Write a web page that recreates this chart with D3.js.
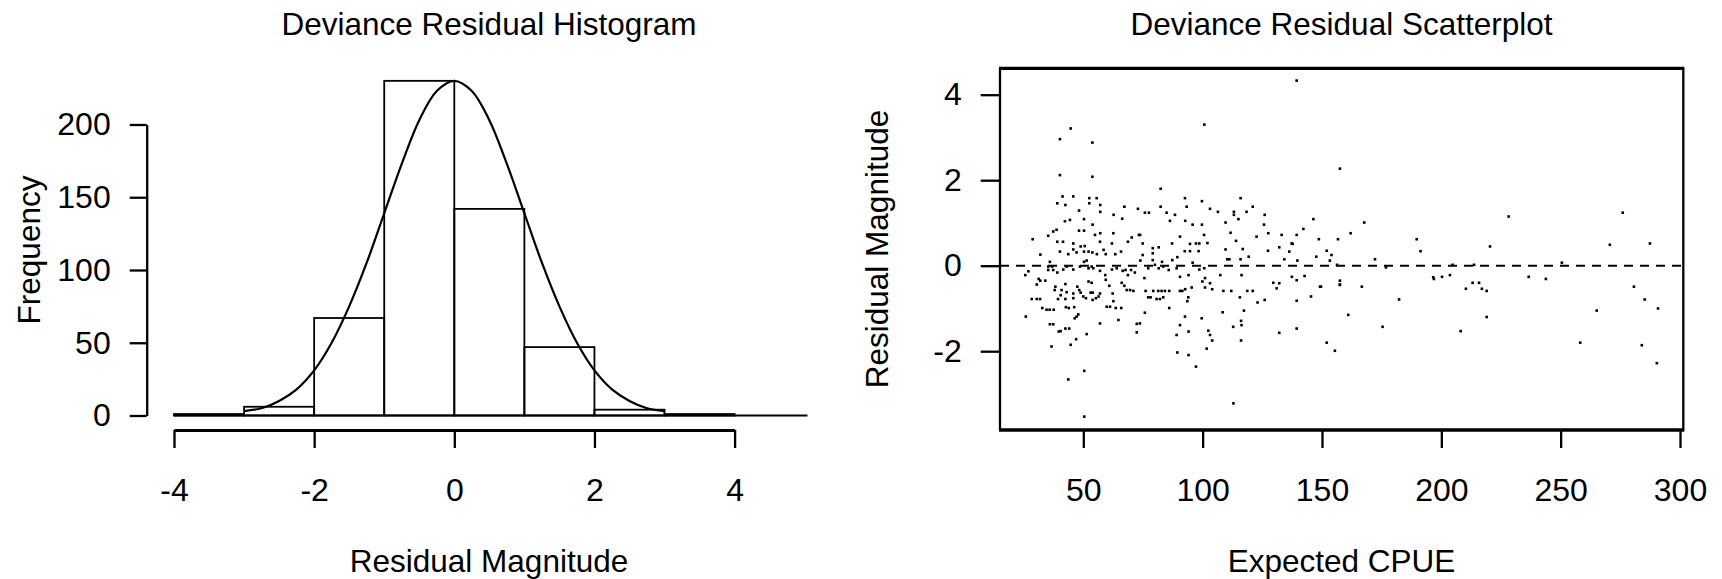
<!DOCTYPE html>
<html>
<head>
<meta charset="utf-8">
<script src="https://cdn.jsdelivr.net/npm/d3@7"></script>
<style>
    body { margin: 0; background: #fff; }
    svg text { font-family: "Liberation Sans", Arial, sans-serif; font-size: 31.5px; fill: #000; }
</style>
</head>
<body>
<div id="chart"></div>
<script>
// histogram: bin left edges (width 1) and counts
var binStarts = [-4, -3, -2, -1, 0, 1, 2, 3];
var binCounts = [1, 6, 67, 230, 142, 47, 4, 1];

// fitted normal curve
var curveX = [-3, -2.75, -2.5, -2.25, -2, -1.75, -1.5, -1.25, -1, -0.75, -0.5, -0.25, 0,
              0.25, 0.5, 0.75, 1, 1.25, 1.5, 1.75, 2, 2.25, 2.5, 2.75, 3];
var curveY = [3, 5, 10, 18, 31, 50, 75, 105, 139, 173, 203, 223, 230,
              223, 203, 173, 139, 105, 75, 50, 31, 18, 10, 5, 3];

var histXTicks = [-4, -2, 0, 2, 4];
var histYTicks = [0, 50, 100, 150, 200];
var scatXTicks = [50, 100, 150, 200, 250, 300];
var scatYTicks = [-2, 0, 2, 4];

// scatter: [expected CPUE, deviance residual]
var scatPoints = [
    [139.4,4.33],[100.7,3.30],[44.7,3.21],[40.2,2.96],[53.8,2.88],[40.2,2.12],[53.8,2.08],[157.5,2.27],[82.4,1.80],
    [41.3,1.62],[45.8,1.62],[52.5,1.58],[55.6,1.58],[39.1,1.46],[42.5,1.42],[52.5,1.46],[57.1,1.42],[48.2,1.29],
    [57.1,1.26],[92.6,1.58],[99.7,1.51],[115.9,1.58],[67.2,1.38],[72.9,1.33],[75.8,1.24],[77.5,1.24],[82.4,1.38],
    [84.9,1.24],[93.3,1.38],[103.1,1.33],[106.4,1.26],[113.1,1.26],[113.1,1.19],[118.4,1.26],[121.0,1.38],[62.7,1.19],
    [126.0,1.19],[66.3,1.10],[50.3,1.09],[42.3,1.04],[44.4,1.07],[86.3,1.05],[88.4,1.19],[92.7,1.05],[95.8,0.96],
    [99.7,0.96],[115.0,1.09],[109.6,1.01],[146.4,1.09],[125.7,0.96],[38.8,0.84],[37.4,0.80],[35.3,0.70],[48.2,0.82],
    [53.9,0.96],[50.3,0.82],[54.9,0.72],[57.1,0.76],[62.6,0.76],[73.3,0.72],[73.8,0.72],[70.3,0.66],[90.5,0.68],
    [100.6,0.72],[102.0,0.53],[98.6,0.52],[97.2,0.52],[94.7,0.51],[28.8,0.62],[39.1,0.56],[41.5,0.56],[45.8,0.52],
    [48.9,0.45],[57.0,0.56],[62.0,0.52],[68.7,0.56],[74.9,0.52],[87.2,0.52],[111.7,0.77],[114.0,0.58],[116.8,0.39],
    [122.6,0.68],[127.5,0.76],[133.1,0.72],[137.3,0.52],[139.4,0.72],[142.2,0.86],[148.7,0.62],[156.7,0.62],[162.0,0.76],
    [32.0,0.26],[40.2,0.33],[43.7,0.27],[45.8,0.38],[47.2,0.31],[50.6,0.46],[50.3,0.33],[52.2,0.33],[53.8,0.31],
    [55.7,0.27],[58.5,0.37],[59.4,0.27],[63.4,0.27],[65.8,0.33],[79.1,0.41],[79.1,0.29],[81.6,0.43],[79.1,0.13],
    [83.0,0.09],[73.9,0.12],[74.9,0.25],[80.0,0.02],[87.3,0.13],[89.4,0.20],[92.5,0.34],[94.7,0.34],[98.3,0.34],
    [95.8,0.07],[109.6,0.38],[110.3,0.15],[111.2,0.15],[115.9,0.15],[119.3,0.21],[127.4,0.35],[132.1,0.43],[136.3,0.33],
    [137.7,0.51],[139.7,0.12],[152.0,0.35],[154.0,0.25],[156.3,0.02],[134.2,0.15],[36.0,0.09],[50.3,0.09],[51.4,0.12],
    [53.5,-0.02],[147.6,0.21],[153.3,0.12],
    [27.0,-0.13],[25.7,-0.22],[35.3,-0.02],[35.3,-0.10],[31.3,-0.31],[34.1,-0.35],[36.9,-0.02],[37.4,-0.10],[39.1,-0.16],
    [41.6,-0.09],[43.0,-0.02],[45.8,-0.09],[48.6,-0.02],[52.2,-0.06],[54.2,-0.06],[57.0,-0.12],[59.2,-0.22],[62.0,-0.09],
    [64.0,-0.06],[66.5,-0.12],[67.7,-0.10],[68.7,-0.22],[70.0,-0.10],[71.6,-0.16],[75.6,-0.29],[77.2,-0.06],[81.6,-0.06],
    [83.5,-0.02],[85.8,-0.10],[89.1,-0.06],[90.5,-0.26],[94.1,-0.22],[98.6,-0.09],[100.7,-0.06],[101.0,-0.29],[103.1,-0.41],
    [107.4,-0.22],[116.3,-0.22],[129.6,-0.40],[131.0,-0.53],[132.1,-0.41],[137.4,-0.26],[139.4,-0.34],[142.7,-0.24],
    [149.2,-0.49],[157.5,-0.35],[157.5,-0.44],[161.0,-1.15],[30.5,-0.44],[32.0,-0.35],[28.4,-0.78],[30.5,-0.78],[31.9,-0.78],
    [25.9,-1.19],[32.8,-0.99],[34.6,-1.03],[35.9,-1.03],[37.6,-1.03],[38.3,-0.49],[38.0,-0.57],[39.4,-0.78],[40.9,-0.57],
    [40.5,-0.69],[42.5,-0.43],[43.0,-0.62],[42.5,-0.78],[42.7,-0.97],[43.9,-0.99],[46.2,-0.97],[45.8,-0.65],[45.8,-0.76],
    [47.5,-0.49],[48.3,-0.57],[48.9,-0.63],[50.0,-0.72],[51.1,-0.76],[52.2,-0.37],[53.5,-0.40],[53.1,-0.63],[53.9,-0.63],
    [53.9,-0.80],[55.3,-0.76],[56.4,-0.72],[57.0,-0.65],[59.4,-0.33],[60.9,-0.47],[62.3,-0.65],[62.6,-0.83],[63.6,-0.99],
    [65.9,-0.99],[66.1,-0.40],[67.2,-0.47],[68.2,-0.57],[69.6,-0.57],[71.0,-0.59],[59.8,-0.96],[61.2,-0.96],[64.7,-1.27],
    [57.0,-1.35],[47.9,-1.14],[47.2,-1.19],[46.4,-1.23],[36.0,-1.37],[37.4,-1.37],[39.7,-1.54],[40.5,-1.53],[42.5,-1.47],
    [44.1,-1.47],[36.7,-1.89],[47.0,-1.72],[51.4,-1.60],[44.7,-1.85],[50.4,-2.46],[43.7,-2.66],[50.4,-3.53],
    [76.1,-0.59],[77.2,-0.74],[78.2,-0.74],[79.3,-0.59],[81.4,-0.59],[82.8,-0.59],[84.2,-0.59],[86.0,-0.59],[80.7,-0.78],
    [82.1,-0.78],[83.5,-0.74],[86.0,-0.99],[90.5,-0.59],[91.5,-0.59],[92.7,-0.55],[94.0,-0.74],[93.6,-0.83],[95.4,-0.51],
    [99.9,-0.37],[101.0,-0.51],[104.0,-0.55],[108.7,-0.59],[112.0,-0.59],[115.6,-0.74],[118.7,-0.59],[121.0,-0.59],
    [123.0,-0.86],[126.0,-0.80],[75.8,-1.10],[72.4,-1.36],[73.7,-1.35],[72.4,-1.56],[92.6,-1.19],[90.5,-1.39],[89.1,-1.62],
    [94.1,-1.54],[99.6,-1.23],[108.4,-1.09],[117.3,-1.05],[102.4,-1.52],[103.1,-1.62],[104.0,-1.75],[112.8,-1.43],
    [116.1,-1.29],[116.3,-1.39],[116.1,-1.75],[101.7,-1.94],[89.4,-2.03],[94.1,-2.09],[97.2,-2.36],[112.9,-3.22],
    [132.1,-1.57],[139.4,-1.47],[139.4,-0.82],[145.4,-0.72],[149.6,-0.49],[152.0,-1.80],[155.4,-1.99],[157.5,-0.45],
    [167.7,1.01],[172.2,0.15],[176.8,-0.04],[166.7,-0.49],[182.3,-0.79],[175.4,-1.43],[189.7,0.62],[191.3,0.34],
    [196.6,-0.27],[196.9,-0.31],[200.3,-0.26],[203.6,-0.22],[204.7,0.02],[208.1,-1.53],[210.3,-0.54],[213.1,-0.40],
    [215.8,-0.40],[213.7,0.02],[217.0,-0.54],[219.0,-0.59],[219.0,-1.20],[220.4,0.45],[228.2,1.15],[236.6,-0.26],
    [243.8,-0.31],[250.5,0.07],[258.2,-1.80],[265.1,-1.05],[270.6,0.49],[276.0,1.24],[280.7,-0.49],[284.0,-1.86],
    [285.2,-0.79],[287.4,0.52],[290.8,-1.00],[290.3,-2.28]
];

var svg = d3.select("#chart").append("svg")
    .attr("width", 1722)
    .attr("height", 579);

// plain "-4" style labels, no unicode minus or decimals
var plainFmt = d => String(d);

// ---------- left panel: histogram ----------
var hx = d3.scaleLinear().domain([-4, 4]).range([174, 734.6]);
var hy = d3.scaleLinear().domain([0, 200]).range([415.5, 124.5]);

svg.append("text")
    .attr("x", 489).attr("y", 35)
    .attr("text-anchor", "middle")
    .text("Deviance Residual Histogram");

// bars
svg.selectAll(".bar")
    .data(binStarts)
    .enter().append("rect")
    .attr("class", "bar")
    .attr("x", d => hx(d))
    .attr("y", (d, i) => hy(binCounts[i]))
    .attr("width", d => hx(d + 1) - hx(d))
    .attr("height", (d, i) => hy(0) - hy(binCounts[i]))
    .attr("fill", "none")
    .attr("stroke", "#000")
    .attr("stroke-width", 1.8);

// base line under the bars
svg.append("line")
    .attr("x1", hx(-4)).attr("x2", hx(5.04))
    .attr("y1", hy(0)).attr("y2", hy(0))
    .attr("stroke", "#000")
    .attr("stroke-width", 2);

// normal curve
var curveLine = d3.line()
    .x((d, i) => hx(curveX[i]))
    .y(d => hy(d))
    .curve(d3.curveCatmullRom);

svg.append("path")
    .datum(curveY)
    .attr("fill", "none")
    .attr("stroke", "#000")
    .attr("stroke-width", 2.2)
    .attr("d", curveLine);

// y axis
var hyAxis = svg.append("g")
    .attr("transform", "translate(146.7,0)")
    .call(d3.axisLeft(hy).tickValues(histYTicks).tickFormat(plainFmt)
        .tickSize(17).tickSizeOuter(0).tickPadding(19));

// x axis, set below the plot
var hxAxis = svg.append("g")
    .attr("transform", "translate(0,430)")
    .call(d3.axisBottom(hx).tickValues(histXTicks).tickFormat(plainFmt)
        .tickSize(18).tickSizeOuter(0).tickPadding(30));
hxAxis.select(".domain").attr("stroke-width", 2.8);

svg.append("text")
    .attr("x", 489).attr("y", 572)
    .attr("text-anchor", "middle")
    .text("Residual Magnitude");

svg.append("text")
    .attr("transform", "translate(40,250) rotate(-90)")
    .attr("text-anchor", "middle")
    .text("Frequency");

// ---------- right panel: scatterplot ----------
var sx = d3.scaleLinear().domain([50, 300]).range([1083.3, 1680]);
var sy = d3.scaleLinear().domain([0, 4]).range([265.7, 94.7]);
var box = { left: 1000, right: 1683.3, top: 68.3, bottom: 430 };

svg.append("text")
    .attr("x", 1341.5).attr("y", 35)
    .attr("text-anchor", "middle")
    .text("Deviance Residual Scatterplot");

// zero reference line
svg.append("line")
    .attr("x1", box.left).attr("x2", box.right)
    .attr("y1", sy(0)).attr("y2", sy(0))
    .attr("stroke", "#000")
    .attr("stroke-width", 2)
    .attr("stroke-dasharray", "9,7");

// points
svg.selectAll(".dot")
    .data(scatPoints)
    .enter().append("rect")
    .attr("class", "dot")
    .attr("x", d => sx(d[0]) - 1.3)
    .attr("y", d => sy(d[1]) - 1.3)
    .attr("width", 2.6)
    .attr("height", 2.6)
    .attr("fill", "#000");

// frame
svg.append("line").attr("x1", box.left - 1).attr("x2", box.right + 1).attr("y1", box.top).attr("y2", box.top)
    .attr("stroke", "#000").attr("stroke-width", 3.3);
svg.append("line").attr("x1", box.left - 1).attr("x2", box.right + 1).attr("y1", box.bottom).attr("y2", box.bottom)
    .attr("stroke", "#000").attr("stroke-width", 3.3);
svg.append("line").attr("x1", box.left).attr("x2", box.left).attr("y1", box.top).attr("y2", box.bottom)
    .attr("stroke", "#000").attr("stroke-width", 2.3);
svg.append("line").attr("x1", box.right).attr("x2", box.right).attr("y1", box.top).attr("y2", box.bottom)
    .attr("stroke", "#000").attr("stroke-width", 2.3);

var syAxis = svg.append("g")
    .attr("transform", "translate(" + box.left + ",0)")
    .call(d3.axisLeft(sy).tickValues(scatYTicks).tickFormat(plainFmt)
        .tickSize(19.3).tickPadding(19));
syAxis.select(".domain").remove();

var sxAxis = svg.append("g")
    .attr("transform", "translate(0," + box.bottom + ")")
    .call(d3.axisBottom(sx).tickValues(scatXTicks).tickFormat(plainFmt)
        .tickSize(18).tickPadding(30));
sxAxis.select(".domain").remove();

svg.append("text")
    .attr("x", 1341.5).attr("y", 572)
    .attr("text-anchor", "middle")
    .text("Expected CPUE");

svg.append("text")
    .attr("transform", "translate(888,249) rotate(-90)")
    .attr("text-anchor", "middle")
    .text("Residual Magnitude");

// shared axis styling
svg.selectAll(".tick line").attr("stroke", "#000").attr("stroke-width", 2.3);
svg.selectAll(".domain").attr("stroke", "#000");
hyAxis.select(".domain").attr("stroke-width", 2.3);
svg.selectAll(".tick text")
    .attr("font-family", null)
    .attr("font-size", null)
    .style("font-family", "'Liberation Sans', Arial, sans-serif")
    .style("font-size", "32px")
    .attr("fill", "#000");
</script>
</body>
</html>
